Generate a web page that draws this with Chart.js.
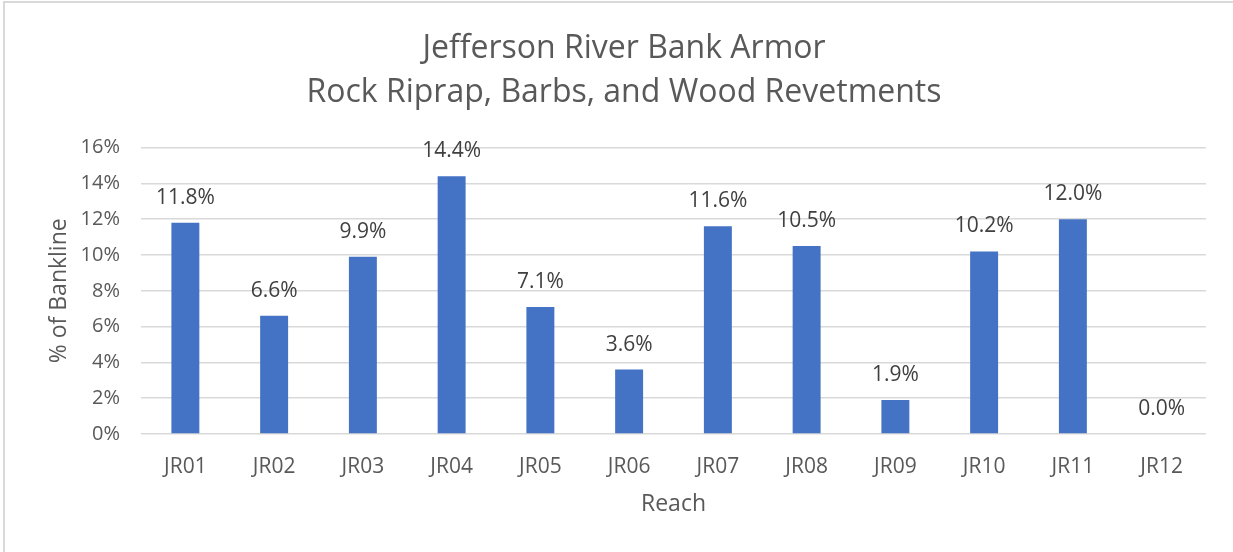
<!DOCTYPE html>
<html>
<head>
<meta charset="utf-8">
<script src="https://cdn.jsdelivr.net/npm/chart.js@4.4.0/dist/chart.umd.min.js"></script>
<style>
    html, body { margin: 0; padding: 0; background: #fff; overflow: hidden; }
    #wrap { position: absolute; left: 0; top: 0; width: 1233px; height: 552px; overflow: hidden; }
    #frame { position: absolute; left: 3px; top: 1px; width: 1260px; height: 580px; border: 2px solid #d9d9d9; box-sizing: border-box; pointer-events: none; }
</style>
</head>
<body>
<div id="wrap">
    <canvas id="armorChart" width="1233" height="552"></canvas>
    <div id="frame"></div>
</div>
<script>
// Chart data
const reaches = ['JR01', 'JR02', 'JR03', 'JR04', 'JR05', 'JR06', 'JR07', 'JR08', 'JR09', 'JR10', 'JR11', 'JR12'];
const bankArmorPct = [11.8, 6.6, 9.9, 14.4, 7.1, 3.6, 11.6, 10.5, 1.9, 10.2, 12.0, 0.0];
const chartTitle = ['Jefferson River Bank Armor', 'Rock Riprap, Barbs, and Wood Revetments'];

const fontFamily = "'Open Sans', 'Noto Sans', sans-serif";

// Draws the value labels above each bar
const valueLabels = {
    id: 'valueLabels',
    afterDatasetsDraw: function(chart) {
        const ctx = chart.ctx;
        const meta = chart.getDatasetMeta(0);
        ctx.save();
        ctx.font = '21px ' + fontFamily;
        ctx.fillStyle = '#404040';
        ctx.textAlign = 'center';
        ctx.textBaseline = 'middle';
        meta.data.forEach(function(bar, i) {
            const v = chart.data.datasets[0].data[i];
            ctx.fillText(v.toFixed(1) + '%', bar.x, bar.y - 25);
        });
        ctx.restore();
    }
};

document.addEventListener('DOMContentLoaded', function() {
    const ctx = document.getElementById('armorChart').getContext('2d');
    new Chart(ctx, {
        type: 'bar',
        data: {
            labels: reaches,
            datasets: [{
                label: '% of Bankline',
                data: bankArmorPct,
                backgroundColor: '#4472c4',
                borderWidth: 0,
                barPercentage: 0.315,
                categoryPercentage: 1.0
            }]
        },
        options: {
            responsive: false,
            animation: false,
            layout: {
                padding: { left: 42, right: 27, top: 0, bottom: 30 }
            },
            scales: {
                y: {
                    min: 0,
                    max: 16,
                    afterFit: function(scale) { scale.width = 99; },
                    ticks: {
                        stepSize: 2,
                        padding: 21,
                        color: '#595959',
                        font: { size: 20, family: fontFamily },
                        callback: function(v) { return v + '%'; }
                    },
                    grid: { color: '#d9d9d9', lineWidth: 1.5, drawTicks: false },
                    border: { display: false },
                    title: {
                        display: true,
                        text: '% of Bankline',
                        color: '#595959',
                        font: { size: 23, family: fontFamily },
                        padding: { top: 4, bottom: 4 }
                    }
                },
                x: {
                    afterFit: function(scale) { scale.height = 88; },
                    ticks: {
                        padding: 20,
                        color: '#595959',
                        font: { size: 21, family: fontFamily }
                    },
                    grid: { display: false, drawTicks: false },
                    border: { display: false },
                    title: {
                        display: true,
                        text: 'Reach',
                        color: '#595959',
                        font: { size: 23, family: fontFamily },
                        padding: { top: 4, bottom: 4 }
                    }
                }
            },
            plugins: {
                legend: { display: false },
                tooltip: { enabled: false },
                title: {
                    display: true,
                    text: chartTitle,
                    color: '#595959',
                    font: { size: 32, family: fontFamily, weight: 'normal', lineHeight: 1.4 },
                    padding: { top: 26, bottom: 32 }
                }
            }
        },
        plugins: [valueLabels]
    });
});
</script>
</body>
</html>
